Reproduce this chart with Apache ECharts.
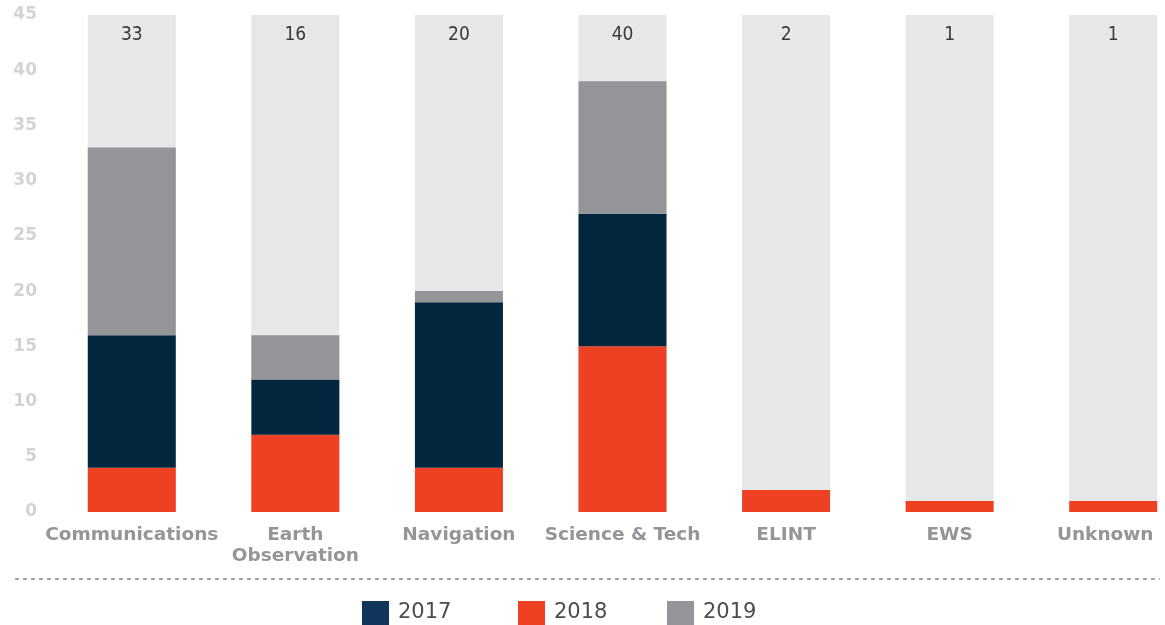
<!DOCTYPE html>
<html><head><meta charset="utf-8">
<script src="https://cdn.jsdelivr.net/npm/echarts@6/dist/echarts.min.js"></script>
<style>html,body{margin:0;padding:0;background:#fff}#c{width:1165px;height:625px}</style>
</head><body><div id="c"></div>
<script>
const categories = ['Communications','Earth\nObservation','Navigation','Science & Tech','ELINT','EWS','Unknown'];
const v2018 = [4, 7, 4, 15, 2, 1, 1];
const v2017 = [12, 5, 15, 12, 0, 0, 0];
const v2019 = [17, 4, 1, 12, 0, 0, 0];
const totals = [33, 16, 20, 40, 2, 1, 1];
const yTicks = [0,5,10,15,20,25,30,35,40,45];
const yMax = 45;
const seriesNames = ['2017', '2018', '2019'];
const colors = {'2017': '#02263d', '2018': '#ee4023', '2019': '#939598'};
const legendColors = {'2017': '#10355a', '2018': '#ee4023', '2019': '#939598'};
const legendLeft = [362, 518, 667];

const chart = echarts.init(document.getElementById('c'));
const barW = 88;
const catData = categories.map((c, i) => i === categories.length - 1
  ? {value: c, textStyle: {padding: [0, 16, 0, 0]}} : c);
chart.setOption({
  animation: false,
  grid: {left: 50, right: -30, top: 15, bottom: 113, outerBoundsMode: 'none', containLabel: false},
  xAxis: {
    type: 'category', data: catData,
    axisLine: {show: false}, axisTick: {show: false},
    axisLabel: {color: '#939598', fontFamily: 'DejaVu Sans', fontWeight: 'bold', fontSize: 18.5, margin: 13, lineHeight: 21, interval: 0}
  },
  yAxis: {
    type: 'value', min: 0, max: yMax, interval: 5,
    splitLine: {show: false}, axisLine: {show: false}, axisTick: {show: false},
    axisLabel: {color: '#d1d3d4', fontFamily: 'DejaVu Sans', fontWeight: 'bold', fontSize: 17, margin: 13,
      formatter: v => yTicks.includes(v) ? String(v) : ''}
  },
  legend: seriesNames.map((n, i) => ({
    data: [{name: n, itemStyle: {color: legendColors[n]}}],
    left: legendLeft[i], top: 601, padding: 0, itemWidth: 27, itemHeight: 24, icon: 'rect',
    textStyle: {color: '#4d4d4f', fontFamily: 'DejaVu Sans', fontSize: 21, padding: [4,0,0,4]}
  })),
  graphic: [{type: 'line', shape: {x1: 15, y1: 579, x2: 1160, y2: 579},
    style: {stroke: '#6d6e71', lineWidth: 1.2, lineDash: [4, 4]}}],
  series: [
    {name: 'bg', type: 'bar', barWidth: barW, barGap: '-100%', z: 1,
     data: categories.map(() => yMax), itemStyle: {color: '#e6e7e8'},
     label: {show: true, position: 'insideTop', distance: 11,
       formatter: p => String(totals[p.dataIndex]),
       color: '#3a3a3a', fontFamily: "'DejaVu Sans Condensed', 'DejaVu Sans'", fontSize: 19}},
    {name: '2018', type: 'bar', stack: 's', barWidth: barW, barGap: '-100%', z: 3, data: v2018, itemStyle: {color: colors['2018']}},
    {name: '2017', type: 'bar', stack: 's', barWidth: barW, barGap: '-100%', z: 3, data: v2017, itemStyle: {color: colors['2017']}},
    {name: '2019', type: 'bar', stack: 's', barWidth: barW, barGap: '-100%', z: 3, data: v2019, itemStyle: {color: colors['2019']}}
  ]
});
</script></body></html>
